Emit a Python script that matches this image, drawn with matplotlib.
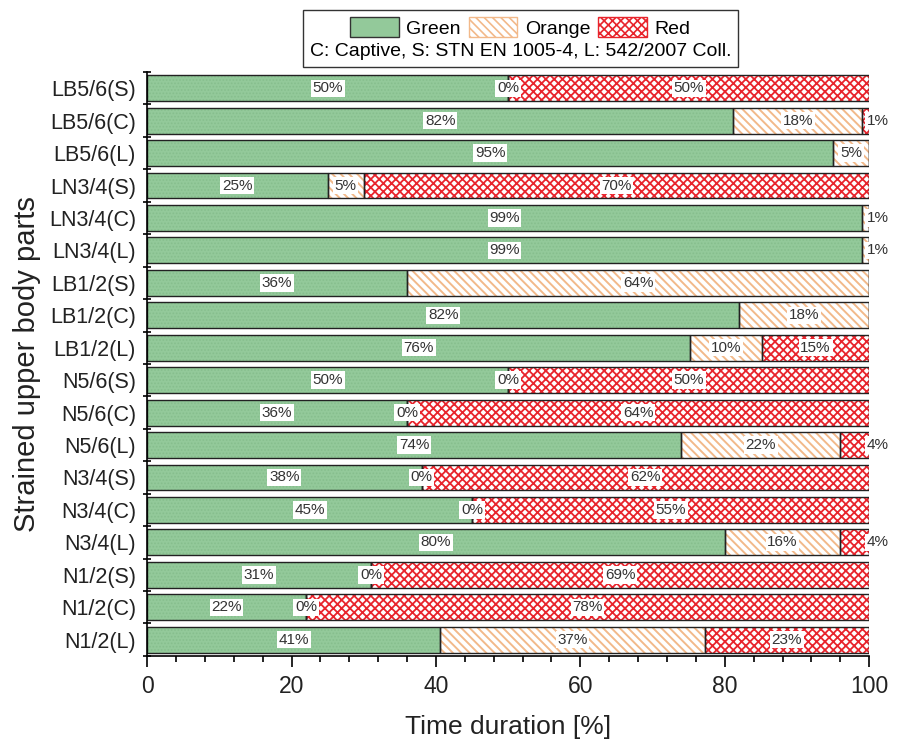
import matplotlib
matplotlib.use("Agg")
import matplotlib.pyplot as plt
import numpy as np
from matplotlib.patches import Patch
from matplotlib.ticker import MultipleLocator

# data, top row first
parts = ["LB5/6(S)", "LB5/6(C)", "LB5/6(L)", "LN3/4(S)", "LN3/4(C)", "LN3/4(L)",
         "LB1/2(S)", "LB1/2(C)", "LB1/2(L)", "N5/6(S)", "N5/6(C)", "N5/6(L)",
         "N3/4(S)", "N3/4(C)", "N3/4(L)", "N1/2(S)", "N1/2(C)", "N1/2(L)"]
green = [50, 82, 95, 25, 99, 99, 36, 82, 76, 50, 36, 74, 38, 45, 80, 31, 22, 41]
orange = [0, 18, 5, 5, 1, 1, 64, 18, 10, 0, 0, 22, 0, 0, 16, 0, 0, 37]
red = [50, 1, 0, 70, 0, 0, 0, 0, 15, 50, 64, 4, 62, 55, 4, 69, 78, 23]

GREEN = "#93c99a"
ORANGE = "#f2b98a"
RED = "#e8242c"
G_HATCH = "....."
O_HATCH = "\\\\\\\\"
R_HATCH = "xxxx"

plt.rcParams['font.family'] = ['Liberation Sans', 'DejaVu Sans']

fig = plt.figure(figsize=(8.97, 7.42), dpi=100)
ax = fig.add_axes([0.164, 0.116, 0.805, 0.787])

# plot top row at the top
y = np.arange(len(parts))[::-1]
g = np.array(green, float)
o = np.array(orange, float)
r = np.array(red, float)
tot = g + o + r
gw, ow, rw = g / tot * 100, o / tot * 100, r / tot * 100
h = 0.8

with plt.rc_context({'hatch.linewidth': 0.8}):
    ax.barh(y, gw, height=h, color=GREEN, edgecolor="#86be8d", hatch=G_HATCH, lw=0)
with plt.rc_context({'hatch.linewidth': 1.4}):
    ax.barh(y, ow, left=gw, height=h, color="white", edgecolor=ORANGE, hatch=O_HATCH, lw=0)
with plt.rc_context({'hatch.linewidth': 1.3}):
    ax.barh(y, rw, left=gw + ow, height=h, color="white", edgecolor=RED, hatch=R_HATCH, lw=0)
# black outlines
ax.barh(y, gw, height=h, fill=False, edgecolor="#222222", lw=1.0)
ax.barh(y, ow, left=gw, height=h, fill=False, edgecolor="#222222", lw=1.0)
ax.barh(y, rw, left=gw + ow, height=h, fill=False, edgecolor="#222222", lw=1.0)

box = dict(facecolor="white", edgecolor="none", pad=1.2)
for i in range(len(parts)):
    starts = [0, gw[i], gw[i] + ow[i]]
    widths = [gw[i], ow[i], rw[i]]
    vals = [green[i], orange[i], red[i]]
    for k in range(3):
        if k == 2 and vals[k] == 0:
            continue
        if k == 1 and vals[k] == 0 and red[i] == 0:
            continue
        cx = starts[k] + widths[k] / 2
        last = (k == 2) or (k == 1 and red[i] == 0)
        if last and vals[k] < 5:
            cx = 101.2
        ax.text(cx, y[i], f"{vals[k]}%", ha="center", va="center",
                fontsize=11, color="#333333", bbox=box, clip_on=False)

ax.set_xlim(0, 100)
ax.set_ylim(-0.5, len(parts) - 0.5)
ax.set_yticks(y)
ax.set_yticklabels(parts, fontsize=15.5, color="#222222")
ax.yaxis.set_minor_locator(MultipleLocator(1, offset=0.5))
ax.tick_params(axis="y", which="major", length=0, pad=8)
ax.tick_params(axis="y", which="minor", length=6, direction="inout", width=1.2)
ax.xaxis.set_major_locator(MultipleLocator(20))
ax.xaxis.set_minor_locator(MultipleLocator(4))
ax.tick_params(axis="x", which="major", length=8, width=1.2, labelsize=16.5,
               labelcolor="#222222", pad=6)
ax.tick_params(axis="x", which="minor", length=4, width=1.2)
for s in ["top", "right"]:
    ax.spines[s].set_visible(False)
for s in ["left", "bottom"]:
    ax.spines[s].set_linewidth(1.2)

ax.set_xlabel("Time duration [%]", fontsize=19, labelpad=12, color="#222222")
ax.set_ylabel("Strained upper body parts", fontsize=21, labelpad=6, color="#222222")

with plt.rc_context({'hatch.linewidth': 1.2}):
    handles = [Patch(facecolor=GREEN, edgecolor="#333333", label="Green"),
               Patch(facecolor="white", edgecolor=ORANGE, hatch=O_HATCH, label="Orange"),
               Patch(facecolor="white", edgecolor=RED, hatch=R_HATCH, label="Red")]
    leg = fig.legend(handles=handles, ncol=3, loc="upper center",
                     bbox_to_anchor=(0.58, 0.999), fontsize=14,
                     title="C: Captive, S: STN EN 1005-4, L: 542/2007 Coll.",
                     title_fontsize=14, handlelength=2.5, handleheight=1.2,
                     columnspacing=0.4, handletextpad=0.4, borderpad=0.35,
                     labelspacing=0.2, fancybox=False, edgecolor="#333333", framealpha=1)
# put the note line below the handles
leg._legend_box._children = leg._legend_box._children[::-1]
leg._legend_box.sep = 4

fig.savefig("out.png", dpi=100)
